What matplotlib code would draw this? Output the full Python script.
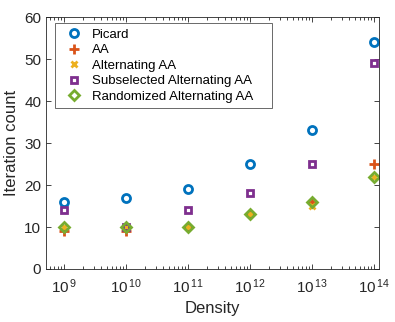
import numpy as np
import matplotlib
matplotlib.use('Agg')
from matplotlib import pyplot as plt
from matplotlib.ticker import LogLocator, NullFormatter, FixedLocator

plt.rcParams['font.family'] = ['Liberation Sans', 'DejaVu Sans']
plt.rcParams['mathtext.fontset'] = 'custom'
plt.rcParams['mathtext.rm'] = 'Liberation Sans'

# densities and iteration counts
density = [1e9, 1e10, 1e11, 1e12, 1e13, 1e14]
picard = [16, 17, 19, 25, 33, 54]
aa = [9, 9, 10, 13, 16, 25]
alt_aa = [10, 10, 10, 13, 15, 22]
sub_alt_aa = [14, 10, 14, 18, 25, 49]
rand_alt_aa = [10, 10, 10, 13, 16, 22]

exps = [9, 10, 11, 12, 13, 14]
xlabels = ['$\\mathregular{10^{\\,%d}}$' % e for e in exps]

fig = plt.figure(figsize=(3.95, 3.22), dpi=100)
ax = fig.add_axes([0.1165, 0.1646, 0.843, 0.7824])

ax.plot(density, picard, 'o', color='#0072BD', ms=5.8, mfc='none', mew=2.0, label='Picard')
ax.plot(density, aa, '+', color='#D95319', ms=6.5, mew=2.0, label='AA')
ax.plot(density, alt_aa, 'x', color='#EDB120', ms=4.5, mew=2.0, label='Alternating AA')
ax.plot(density, sub_alt_aa, 's', color='#7E2F8E', ms=5, mfc='none', mew=2.0, label='Subselected Alternating AA')
ax.plot(density, rand_alt_aa, 'D', color='#77AC30', ms=5.5, mfc='none', mew=2.0, label='Randomized Alternating AA')

ax.set_xscale('log')
ax.set_xlim(10**8.71, 10**14.08)
ax.set_ylim(0, 60)
ax.xaxis.set_major_locator(FixedLocator(density))
ax.set_xticklabels(xlabels)
ax.xaxis.set_minor_locator(LogLocator(base=10, subs=np.arange(2, 10), numticks=20))
ax.xaxis.set_minor_formatter(NullFormatter())
ax.set_yticks([0, 10, 20, 30, 40, 50, 60])

ax.tick_params(which='both', direction='in', top=True, right=True, colors='#262626', labelsize=11, width=0.6)
ax.tick_params(which='major', length=3.5)
ax.tick_params(which='minor', length=2)
ax.tick_params(axis='x', pad=6)
for s in ax.spines.values():
    s.set_linewidth(0.6)
    s.set_color('#262626')

ax.set_xlabel('Density', fontsize=12, color='#262626')
ax.set_ylabel('Iteration count', fontsize=12, color='#262626')

leg = ax.legend(loc='upper left', bbox_to_anchor=(0.027, 0.644, 0.651, 0.332), mode='expand',
                fontsize=9.5, frameon=True, fancybox=False, edgecolor='#262626',
                borderpad=0.4, labelspacing=0.25, handletextpad=0.33, borderaxespad=0, handlelength=2.07)
leg.get_frame().set_linewidth(0.6)

fig.savefig('out.png', dpi=100)
